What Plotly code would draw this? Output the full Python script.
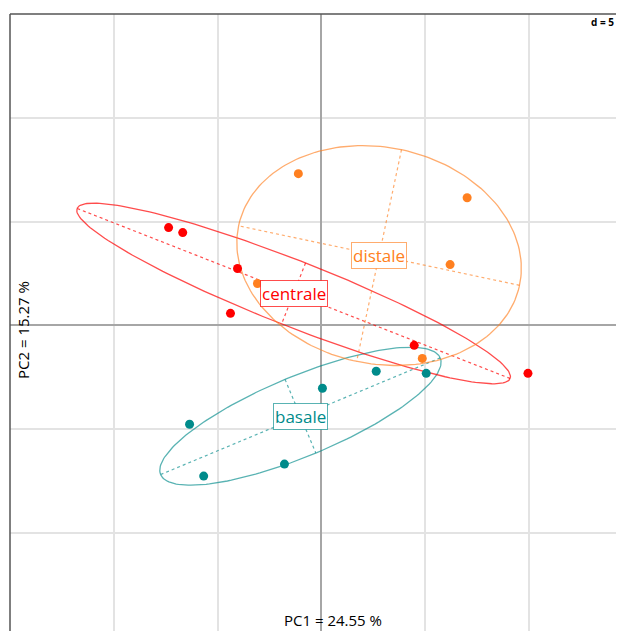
import numpy as np
import plotly.graph_objects as go

# ---- data ----
groups = ["basale", "centrale", "distale"]
colors = {"basale": "#008B8B", "centrale": "#FF0000", "distale": "#FF8020"}
line_colors = {"basale": "rgba(0,139,139,0.65)", "centrale": "rgba(255,0,0,0.7)", "distale": "rgba(255,128,32,0.65)"}

basale_x = [2.64, 5.05, 0.05, -6.35, -5.67, -1.78]
basale_y = [-2.21, -2.31, -3.03, -4.76, -7.26, -6.68]
centrale_x = [-7.36, -6.68, -4.04, -4.38, 4.47, 9.95]
centrale_y = [4.71, 4.47, 2.74, 0.58, -0.96, -2.31]
distale_x = [-1.11, 7.02, 6.20, -3.08, 4.86]
distale_y = [7.31, 6.15, 2.93, 2.02, -1.59]

xlab = "PC1 = 24.55 %"
ylab = "PC2 = 15.27 %"
scale_label = "d = 5"
grid_step = 5

data = {
    "basale": (basale_x, basale_y),
    "centrale": (centrale_x, centrale_y),
    "distale": (distale_x, distale_y),
}

ELL = 1.5

# ---- geometry of the page (page body has an 8px margin) ----
OFF = 8
W, H = 624 - 2 * OFF, 631 - OFF
ML, MT = 10 - OFF, 14 - OFF
unit = 20.76
xr = [-15, -15 + (W - ML) / unit]
yr = [15 - (H - MT) / unit, 15]


def px_to_paper_x(px):
    return (px - OFF - ML) / (W - ML)


def py_to_paper_y(py):
    return (H - (py - OFF)) / (H - MT)


fig = go.Figure()

centroids = {}
for g in groups:
    x = np.array(data[g][0]); y = np.array(data[g][1])
    mx, my = x.mean(), y.mean()
    centroids[g] = (mx, my)
    cov = np.cov(np.vstack([x, y]), ddof=1)
    vals, vecs = np.linalg.eigh(cov)
    order = np.argsort(vals)[::-1]
    vals = vals[order]; vecs = vecs[:, order]
    a, b = ELL * np.sqrt(vals[0]), ELL * np.sqrt(vals[1])
    v1, v2 = vecs[:, 0], vecs[:, 1]
    t = np.linspace(0, 2 * np.pi, 200)
    ex = mx + a * np.cos(t) * v1[0] + b * np.sin(t) * v2[0]
    ey = my + a * np.cos(t) * v1[1] + b * np.sin(t) * v2[1]
    lc = line_colors[g]
    fig.add_trace(go.Scatter(x=ex, y=ey, mode="lines", line=dict(color=lc, width=1.3),
                             hoverinfo="skip", showlegend=False))
    for v, s in ((v1, a), (v2, b)):
        fig.add_trace(go.Scatter(x=[mx - s * v[0], mx + s * v[0]], y=[my - s * v[1], my + s * v[1]],
                                 mode="lines", line=dict(color=lc, width=1.2, dash="dot"),
                                 hoverinfo="skip", showlegend=False))

for g in groups:
    x, y = data[g]
    fig.add_trace(go.Scatter(x=x, y=y, mode="markers", name=g,
                             marker=dict(color=colors[g], size=9), showlegend=False))

for g in groups:
    mx, my = centroids[g]
    fig.add_annotation(x=mx, y=my, text=g, showarrow=False,
                       font=dict(family="Open Sans", size=17, color=colors[g]),
                       bgcolor="white", bordercolor=line_colors[g], borderwidth=1, borderpad=1)

# axis titles and scale label
fig.add_annotation(xref="paper", yref="paper", x=px_to_paper_x(333), y=py_to_paper_y(620),
                   text=xlab, showarrow=False, xanchor="center", yanchor="middle",
                   font=dict(family="Open Sans", size=15, color="black"))
fig.add_annotation(xref="paper", yref="paper", x=px_to_paper_x(23), y=py_to_paper_y(330),
                   text=ylab, showarrow=False, textangle=-90, xanchor="center", yanchor="middle",
                   font=dict(family="Open Sans", size=15, color="black"))
fig.add_annotation(xref="paper", yref="paper", x=1, y=py_to_paper_y(22),
                   text="<b>" + scale_label + "</b>", showarrow=False, xanchor="right", yanchor="middle",
                   font=dict(family="Open Sans", size=10, color="black"))

# frame (left and top edges only visible)
fig.add_shape(type="line", xref="paper", yref="paper", x0=0, x1=0, y0=0, y1=1,
              line=dict(color="#555555", width=1.5))
fig.add_shape(type="line", xref="paper", yref="paper", x0=0, x1=1, y0=1, y1=1,
              line=dict(color="#555555", width=1.5))

axis_common = dict(showticklabels=False, ticks="", dtick=grid_step, tick0=0,
                   showgrid=True, gridcolor="#e3e3e3", gridwidth=1.5,
                   zeroline=True, zerolinecolor="#a6a6a6", zerolinewidth=2,
                   showline=False, fixedrange=True)
fig.update_xaxes(range=xr, **axis_common)
fig.update_yaxes(range=yr, **axis_common)

fig.update_layout(width=W, height=H, margin=dict(l=ML, r=0, t=MT, b=0, pad=0),
                  plot_bgcolor="white", paper_bgcolor="white", showlegend=False)

fig.write_html("out.html")
